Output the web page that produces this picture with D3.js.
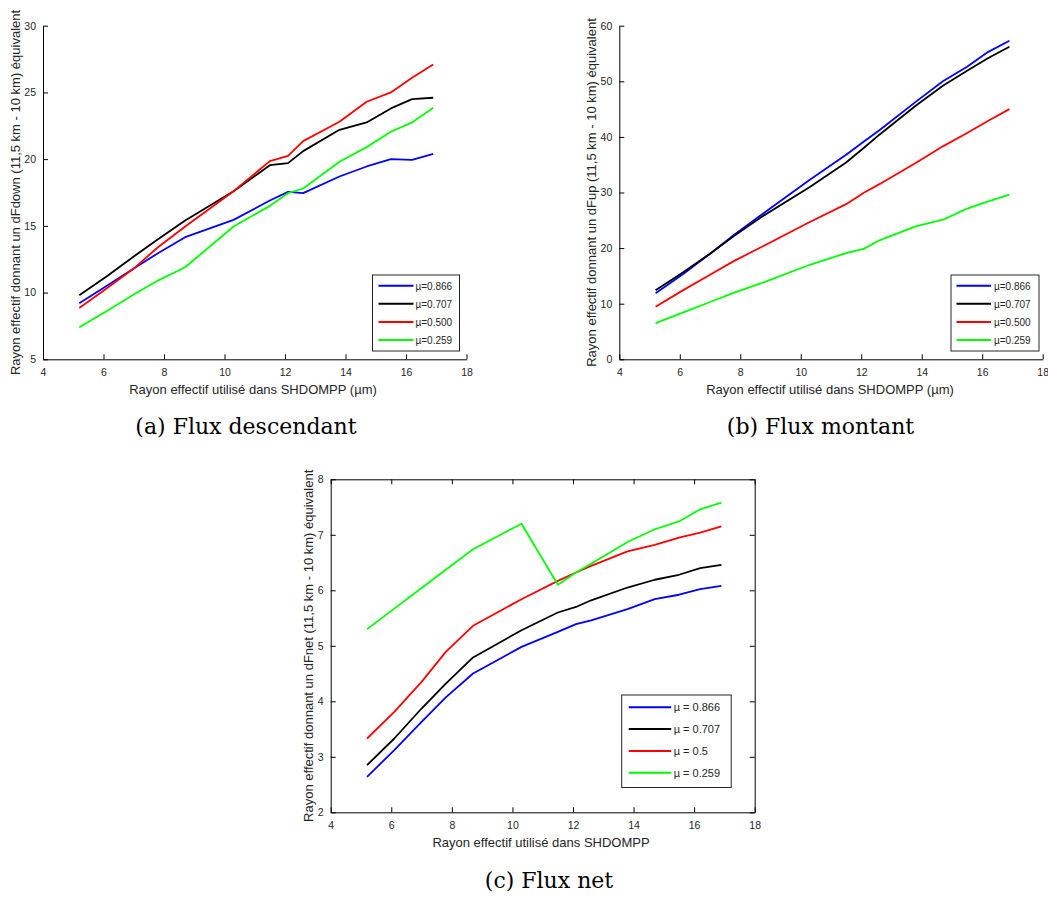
<!DOCTYPE html>
<html>
<head>
<meta charset="utf-8">
<script src="https://cdn.jsdelivr.net/npm/d3@7"></script>
<style>
  html, body { margin: 0; padding: 0; background: #fff; }
  svg { display: block; }
  .tick text { font-family: "Liberation Sans", Arial, sans-serif; font-size: 10.5px; fill: #262626; }
  .lbl { font-family: "Liberation Sans", Arial, sans-serif; font-size: 13px; fill: #262626; }
  .leg { font-family: "Liberation Sans", Arial, sans-serif; fill: #262626; }
  .cap { font-family: "DejaVu Serif", "Liberation Serif", serif; font-size: 22px; fill: #000; }
</style>
</head>
<body>
<svg id="fig" width="1048" height="901"></svg>
<script>
// Effective radii used in SHDOMPP (µm)
const radii = [5.2, 6.1, 7.0, 7.8, 8.7, 10.3, 11.5, 12.1, 12.6, 13.8, 14.7, 15.5, 16.2, 16.9];

const seriesColors = ["#0000ff", "#000000", "#ff0000", "#00ff00"];
const legendAB = ["µ=0.866", "µ=0.707", "µ=0.500", "µ=0.259"];
const legendC = ["µ = 0.866", "µ = 0.707", "µ = 0.5", "µ = 0.259"];

// (a) downward flux
const down866 = [9.2, 10.5, 11.8, 12.95, 14.15, 15.45, 16.9, 17.55, 17.45, 18.7, 19.45, 20.0, 19.95, 20.4];
const down707 = [9.8, 11.2, 12.7, 14.0, 15.4, 17.6, 19.55, 19.7, 20.6, 22.2, 22.75, 23.8, 24.5, 24.6];
const down500 = [8.85, 10.3, 11.8, 13.4, 14.95, 17.6, 19.85, 20.25, 21.35, 22.8, 24.3, 25.0, 26.1, 27.1];
const down259 = [7.4, 8.6, 9.85, 10.9, 11.9, 14.95, 16.5, 17.45, 17.8, 19.8, 20.9, 22.05, 22.75, 23.85];

// (b) upward flux
const up866 = [11.9, 15.3, 19.0, 22.4, 26.0, 32.3, 36.8, 39.2, 41.2, 46.3, 50.0, 52.6, 55.3, 57.3];
const up707 = [12.4, 15.6, 19.0, 22.2, 25.6, 31.0, 35.4, 38.1, 40.4, 45.6, 49.2, 51.9, 54.2, 56.2];
const up500 = [9.45, 12.4, 15.2, 17.7, 20.2, 24.7, 27.9, 30.0, 31.5, 35.3, 38.3, 40.7, 42.9, 45.0];
const up259 = [6.5, 8.4, 10.3, 12.0, 13.7, 17.0, 19.1, 19.9, 21.4, 23.9, 25.1, 27.1, 28.4, 29.6];

// (c) net flux
const net866 = [2.64, 3.12, 3.63, 4.07, 4.5, 4.98, 5.25, 5.39, 5.46, 5.66, 5.84, 5.92, 6.02, 6.08];
const net707 = [2.85, 3.33, 3.87, 4.32, 4.79, 5.28, 5.6, 5.7, 5.82, 6.05, 6.19, 6.28, 6.4, 6.46];
const net500 = [3.33, 3.81, 4.35, 4.89, 5.36, 5.84, 6.17, 6.32, 6.44, 6.7, 6.82, 6.95, 7.04, 7.15];
const net259 = [5.3, 5.67, 6.04, 6.37, 6.74, 7.2, 6.1, 6.32, 6.48, 6.87, 7.1, 7.24, 7.46, 7.58];

const xTicks = [4, 6, 8, 10, 12, 14, 16, 18];
const yTicksA = [5, 10, 15, 20, 25, 30];
const yTicksB = [0, 10, 20, 30, 40, 50, 60];
const yTicksC = [2, 3, 4, 5, 6, 7, 8];

const xLabelAB = "Rayon effectif utilisé dans SHDOMPP (µm)";
const xLabelC = "Rayon effectif utilisé dans SHDOMPP";
const yLabelA = "Rayon effectif donnant un dFdown (11,5 km - 10 km) équivalent";
const yLabelB = "Rayon effectif donnant un dFup (11,5 km - 10 km) équivalent";
const yLabelC = "Rayon effectif donnant un dFnet (11,5 km - 10 km) équivalent";

const svg = d3.select("#fig");
const fmt = d3.format("d");

function panel(cfg) {
  const g = svg.append("g");
  const x = d3.scaleLinear().domain([4, 18]).range([cfg.left, cfg.right]);
  const y = d3.scaleLinear().domain(cfg.yDomain).range([cfg.bottom, cfg.top]);
  const tl = 5;

  // bottom and left axes, ticks pointing inward
  const xa = g.append("g").attr("transform", `translate(0,${cfg.bottom})`)
    .call(d3.axisBottom(x).tickValues(xTicks).tickFormat(fmt).tickSizeInner(-tl).tickSizeOuter(0).tickPadding(9));
  const ya = g.append("g").attr("transform", `translate(${cfg.left},0)`)
    .call(d3.axisLeft(y).tickValues(cfg.yTicks).tickFormat(fmt).tickSizeInner(-tl).tickSizeOuter(0).tickPadding(7));
  [xa, ya].forEach(a => {
    a.select(".domain").attr("stroke", "#000").attr("stroke-width", 1);
    a.selectAll(".tick line").attr("stroke", "#000");
  });

  if (cfg.box) {
    const xt = g.append("g").attr("transform", `translate(0,${cfg.top})`)
      .call(d3.axisTop(x).tickValues(xTicks).tickSizeInner(-tl).tickSizeOuter(0).tickFormat(""));
    const yr = g.append("g").attr("transform", `translate(${cfg.right},0)`)
      .call(d3.axisRight(y).tickValues(cfg.yTicks).tickSizeInner(-tl).tickSizeOuter(0).tickFormat(""));
    [xt, yr].forEach(a => {
      a.select(".domain").attr("stroke", "#000");
      a.selectAll(".tick line").attr("stroke", "#000");
    });
  }

  // data lines
  const line = d3.line().x(d => x(d[0])).y(d => y(d[1]));
  cfg.series.forEach((vals, i) => {
    g.append("path")
      .datum(radii.map((r, k) => [r, vals[k]]))
      .attr("d", line)
      .attr("fill", "none")
      .attr("stroke", seriesColors[i])
      .attr("stroke-width", 1.8)
      .attr("stroke-linejoin", "round");
  });

  // axis labels
  g.append("text").attr("class", "lbl")
    .attr("x", cfg.xLabelX).attr("y", cfg.bottom + 35)
    .attr("text-anchor", "middle").text(cfg.xLabel);
  g.append("text").attr("class", "lbl")
    .attr("transform", `translate(${cfg.yLabelX},${(cfg.top + cfg.bottom) / 2}) rotate(-90)`)
    .attr("text-anchor", "middle").text(cfg.yLabel);

  // legend
  const L = cfg.legend;
  g.append("rect")
    .attr("x", L.x).attr("y", L.y).attr("width", L.w).attr("height", L.h)
    .attr("fill", "#fff").attr("stroke", "#262626").attr("stroke-width", 1);
  L.labels.forEach((t, i) => {
    const yy = L.y + L.first + i * L.step;
    g.append("line")
      .attr("x1", L.x + L.lx0).attr("x2", L.x + L.lx1)
      .attr("y1", yy).attr("y2", yy)
      .attr("stroke", seriesColors[i]).attr("stroke-width", 2);
    g.append("text").attr("class", "leg")
      .attr("x", L.x + L.tx).attr("y", yy + 4)
      .style("font-size", L.fs + "px").text(t);
  });

  // caption
  g.append("text").attr("class", "cap")
    .attr("x", cfg.cap.x).attr("y", cfg.cap.y)
    .attr("text-anchor", "middle")
    .text(cfg.cap.text);
}

panel({
  left: 43, right: 466.5, top: 25.7, bottom: 359.3, yDomain: [5, 30], yTicks: yTicksA, box: false,
  series: [down866, down707, down500, down259],
  xLabel: xLabelAB, xLabelX: 253, yLabel: yLabelA, yLabelX: 19.5,
  legend: { x: 372.5, y: 275, w: 87, h: 76, first: 10.7, step: 18.1, lx0: 6, lx1: 41, tx: 43, fs: 10, labels: legendAB },
  cap: { x: 246, y: 434, text: "(a) Flux descendant" }
});

panel({
  left: 619.3, right: 1042.7, top: 25.7, bottom: 359.3, yDomain: [0, 60], yTicks: yTicksB, box: false,
  series: [up866, up707, up500, up259],
  xLabelX: 830, xLabel: xLabelAB, yLabel: yLabelB, yLabelX: 595.5,
  legend: { x: 951, y: 275, w: 88, h: 76, first: 10.7, step: 18.1, lx0: 5.5, lx1: 40, tx: 43, fs: 10, labels: legendAB },
  cap: { x: 820.5, y: 434, text: "(b) Flux montant" }
});

panel({
  left: 330.7, right: 754.7, top: 479.3, bottom: 812.3, yDomain: [2, 8], yTicks: yTicksC, box: true,
  series: [net866, net707, net500, net259],
  xLabelX: 541, xLabel: xLabelC, yLabel: yLabelC, yLabelX: 312.5,
  legend: { x: 621.7, y: 695, w: 109.5, h: 92.5, first: 12.3, step: 21.8, lx0: 7, lx1: 49.5, tx: 52, fs: 11, labels: legendC },
  cap: { x: 549, y: 888, text: "(c) Flux net" }
});
</script>
</body>
</html>
